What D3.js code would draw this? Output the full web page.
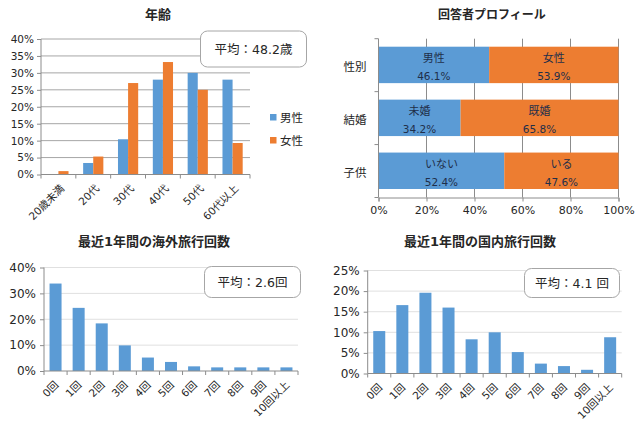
<!DOCTYPE html>
<html>
<head>
<meta charset="utf-8">
<title>回答者プロフィール</title>
<script src="https://d3js.org/d3.v7.min.js"></script>
<style>
body { margin: 0; background: #fff; }
svg { display: block; }
text { font-family: "DejaVu Sans", "Noto Sans CJK JP", sans-serif; fill: #262626; }
</style>
</head>
<body>
<svg id="chart" width="640" height="430"></svg>
<script>
var blue = "#5b9bd5", orange = "#ed7d31";

// 年齢
var ageCats = ["20歳未満", "20代", "30代", "40代", "50代", "60代以上"];
var ageMale = [0, 3.4, 10.4, 28, 30, 28];
var ageFemale = [1, 5.3, 27, 33.2, 25, 9.3];

// 回答者プロフィール
var profileCats = ["性別", "結婚", "子供"];
var profileLeft = [46.1, 34.2, 52.4];
var profileRight = [53.9, 65.8, 47.6];
var profileLeftNames = ["男性", "未婚", "いない"];
var profileRightNames = ["女性", "既婚", "いる"];

// 旅行回数
var tripCats = ["0回", "1回", "2回", "3回", "4回", "5回", "6回", "7回", "8回", "9回", "10回以上"];
var abroad = [33.8, 24.4, 18.4, 9.9, 5.2, 3.5, 1.8, 1.4, 1.4, 1.4, 1.4];
var domestic = [10.3, 16.6, 19.6, 16, 8.3, 10, 5.2, 2.4, 1.8, 0.9, 8.8];

var svg = d3.select("#chart");

function title(txt, x, y, size) {
    svg.append("text").attr("x", x).attr("y", y).attr("text-anchor", "middle")
        .style("font-size", (size || 13) + "px").style("font-weight", "700").text(txt);
}

function callout(txt, x, y, w, h) {
    svg.append("rect").attr("x", x).attr("y", y).attr("width", w).attr("height", h)
        .attr("rx", 7).attr("ry", 7).attr("fill", "#fff").attr("stroke", "#a6a6a6").attr("stroke-width", 1);
    svg.append("text").attr("x", x + w / 2).attr("y", y + h / 2 + 4.5).attr("text-anchor", "middle")
        .style("font-size", "12.5px").text(txt);
}

// 縦棒グラフ: series = [{values, color}]
function columns(cats, series, box, yMax, yStep, opt) {
    var x = d3.scaleBand().domain(cats).range([box.x0, box.x1]);
    var y = d3.scaleLinear().domain([0, yMax]).range([box.y0, box.y1]);
    var g = svg.append("g");
    var ticks = d3.range(0, yMax + 0.01, yStep);

    g.selectAll("line.grid").data(ticks.slice(1)).enter().append("line")
        .attr("x1", box.x0).attr("x2", box.x1)
        .attr("y1", function(d) { return y(d); }).attr("y2", function(d) { return y(d); })
        .attr("stroke", opt.grid).attr("stroke-width", 1);

    var bw = x.bandwidth() * opt.barFrac;
    series.forEach(function(s, k) {
        g.selectAll("rect.s" + k).data(s.values).enter().append("rect")
            .attr("x", function(d, i) {
                return x(cats[i]) + (x.bandwidth() - bw * series.length) / 2 + bw * k;
            })
            .attr("width", bw)
            .attr("y", function(d) { return y(d); })
            .attr("height", function(d) { return box.y0 - y(d); })
            .attr("fill", s.color);
    });

    var ay = g.append("g").attr("transform", "translate(" + box.x0 + ",0)")
        .call(d3.axisLeft(y).tickValues(ticks).tickSize(4).tickFormat(function(d) { return d + "%"; }));
    ay.selectAll("text").style("font-size", opt.yFont + "px").attr("dx", opt.yDx || 0);
    ay.selectAll("line,path").attr("stroke", "#8c8c8c");
    ay.select("path").attr("d", "M0," + box.y0 + "V" + box.y1);

    var ax = g.append("g").attr("transform", "translate(0," + box.y0 + ")")
        .call(d3.axisBottom(x).tickSize(0).tickFormat(function(d) { return d; }));
    ax.selectAll("line,path").attr("stroke", "#8c8c8c");
    ax.select("path").attr("d", "M" + box.x0 + ",0H" + box.x1);
    ax.selectAll("text").style("font-size", "10.5px").attr("text-anchor", "end")
        .attr("transform", "translate(" + opt.labelDx + ",12) rotate(-45)")
        .attr("x", 0).attr("y", 0).attr("dy", "0.35em");
    ax.selectAll("line.sep").data(d3.range(cats.length + 1)).enter().append("line")
        .attr("class", "sep")
        .attr("x1", function(d) { return box.x0 + d * x.step(); })
        .attr("x2", function(d) { return box.x0 + d * x.step(); })
        .attr("y1", 0).attr("y2", 4).attr("stroke", "#8c8c8c");
}

title("年齢", 158, 19);
columns(ageCats, [{values: ageMale, color: blue}, {values: ageFemale, color: orange}],
    {x0: 41, x1: 250, y0: 174.5, y1: 39}, 40, 5, {grid: "#a6a6a6", barFrac: 0.29, yFont: 10.5, labelDx: 4});
callout("平均：48.2歳", 200.5, 31, 106, 36);

var legendItems = [["男性", blue, 117], ["女性", orange, 140]];
legendItems.forEach(function(d) {
    svg.append("rect").attr("x", 270).attr("y", d[2] - 3).attr("width", 6.5).attr("height", 6.5).attr("fill", d[1]);
    svg.append("text").attr("x", 280).attr("y", d[2] + 5).style("font-size", "11.5px").text(d[0]);
});

// 回答者プロフィール
title("回答者プロフィール", 492, 19, 12);
var px = d3.scaleLinear().domain([0, 100]).range([378.5, 618.5]);
var py = d3.scaleBand().domain(profileCats).range([38.7, 197.5]);
var pg = svg.append("g");
pg.selectAll("line.grid").data(d3.range(20, 101, 20)).enter().append("line")
    .attr("x1", function(d) { return px(d); }).attr("x2", function(d) { return px(d); })
    .attr("y1", 38.7).attr("y2", 197.5).attr("stroke", "#8c8c8c");
var barPad = 8;
pg.selectAll("rect.left").data(profileLeft).enter().append("rect")
    .attr("x", px(0))
    .attr("y", function(d, i) { return py(profileCats[i]) + barPad; })
    .attr("width", function(d) { return px(d) - px(0); })
    .attr("height", py.bandwidth() - barPad * 2 - 0.5)
    .attr("fill", blue);
pg.selectAll("rect.right").data(profileRight).enter().append("rect")
    .attr("x", function(d, i) { return px(profileLeft[i]); })
    .attr("y", function(d, i) { return py(profileCats[i]) + barPad; })
    .attr("width", function(d) { return px(d) - px(0); })
    .attr("height", py.bandwidth() - barPad * 2 - 0.5)
    .attr("fill", orange);

function barLabels(values, names, center) {
    var rows = pg.selectAll(null).data(values).enter().append("g")
        .attr("transform", function(d, i) {
            return "translate(" + center(d, i) + "," + py(profileCats[i]) + ")";
        });
    rows.append("text").attr("y", 23).attr("text-anchor", "middle").style("font-size", "11px")
        .style("fill", "#1f2f4a").text(function(d, i) { return names[i]; });
    rows.append("text").attr("y", 41).attr("text-anchor", "middle").style("font-size", "10.5px")
        .style("fill", "#1f2f4a").text(function(d) { return d.toFixed(1) + "%"; });
}
barLabels(profileLeft, profileLeftNames, function(d) { return px(d / 2); });
barLabels(profileRight, profileRightNames, function(d, i) { return px(profileLeft[i] + d / 2); });

var pay = pg.append("g").attr("transform", "translate(" + px(0) + ",0)")
    .call(d3.axisLeft(py).tickSize(0));
pay.select("path").attr("stroke", "#8c8c8c").attr("d", "M0,38.7V197.5");
pay.selectAll("text").style("font-size", "11.5px").attr("x", -12).attr("y", 2);
pg.selectAll("line.sep").data(d3.range(4)).enter().append("line")
    .attr("x1", px(0) - 4).attr("x2", px(0))
    .attr("y1", function(d) { return 38.7 + d * py.step(); })
    .attr("y2", function(d) { return 38.7 + d * py.step(); })
    .attr("stroke", "#8c8c8c");
var pax = pg.append("g").attr("transform", "translate(0,197.5)")
    .call(d3.axisBottom(px).tickValues(d3.range(0, 101, 20)).tickSize(4).tickFormat(function(d) { return d + "%"; }));
pax.selectAll("line,path").attr("stroke", "#8c8c8c");
pax.selectAll("text").style("font-size", "11px").attr("dy", "0.9em");

// 旅行回数
title("最近1年間の海外旅行回数", 154, 246);
columns(tripCats, [{values: abroad, color: blue}],
    {x0: 44, x1: 298, y0: 371, y1: 267.5}, 40, 10, {grid: "#e0e0e0", barFrac: 0.52, yFont: 12, yDx: -1, labelDx: 1});
callout("平均：2.6回", 204.5, 266.5, 96, 31);

title("最近1年間の国内旅行回数", 480, 246);
columns(tripCats, [{values: domestic, color: blue}],
    {x0: 367.7, x1: 621.7, y0: 373.5, y1: 270.5}, 25, 5, {grid: "#e0e0e0", barFrac: 0.52, yFont: 12, yDx: -1, labelDx: 1});
callout("平均：4.1 回", 524.5, 268.5, 95, 29);
</script>
</body>
</html>
